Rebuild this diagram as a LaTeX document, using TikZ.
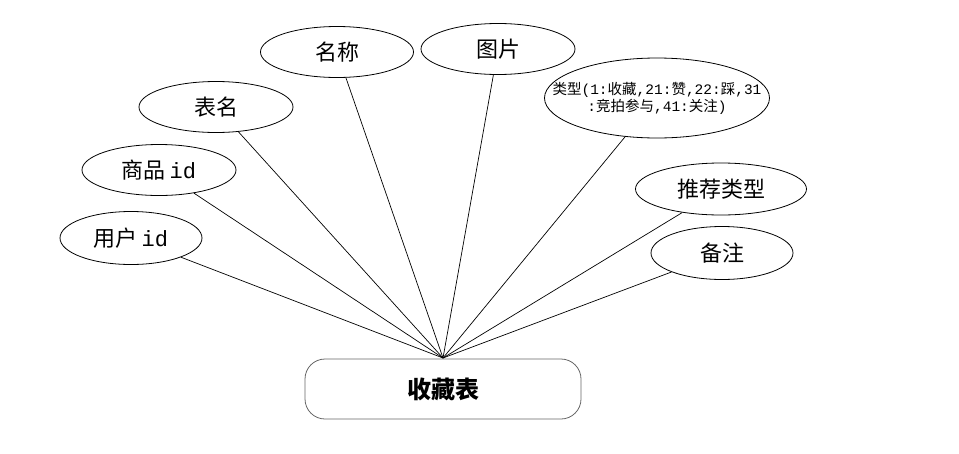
\documentclass[tikz,border=0pt]{standalone}
\usepackage{fontspec}
\setmainfont{Noto Sans CJK SC}
\newfontfamily\cjk{Noto Sans CJK SC}
\newfontfamily\lat{Liberation Mono}
\tikzset{
  attr/.style={draw,ellipse,line width=0.8pt,inner sep=0pt,font=\cjk\fontsize{22}{26}\selectfont},
  tabl/.style={draw=black!60,rounded corners=20pt,line width=0.8pt,minimum width=276pt,minimum height=60pt,font=\cjk\bfseries\fontsize{24}{28}\selectfont},
  link/.style={line width=0.7pt}
}
\usetikzlibrary{shapes.geometric}
\begin{document}
\begin{tikzpicture}[x=1pt,y=-1pt]%
\useasboundingbox (0,0) rectangle (959,453);
% entity
\node[tabl] (shoucang) at (443,389) {收藏表};
\coordinate (hub) at (443,358);
% attributes
\node[attr,minimum width=142pt,minimum height=53pt] (yonghu) at (131,238) {用户{\lat\,id}};
\node[attr,minimum width=154pt,minimum height=51pt] (shangpin) at (159,170) {商品{\lat\,id}};
\node[attr,minimum width=154pt,minimum height=51pt] (biaoming) at (216,107) {表名};
\node[attr,minimum width=153pt,minimum height=51pt] (mingcheng) at (337,52) {名称};
\node[attr,minimum width=154pt,minimum height=51pt] (tupian) at (498,49) {图片};
\node[attr,minimum width=225pt,minimum height=80pt,inner xsep=-30pt,align=center,font=\cjk\fontsize{14.5}{17}\selectfont] (leixing) at (657,98)
 {类型{\lat(1:}收藏{\lat,21:}赞{\lat,22:}踩{\lat,31}\\{\lat:}竞拍参与{\lat,41:}关注{\lat)}};
\node[attr,minimum width=171pt,minimum height=52pt] (tuijian) at (721,189) {推荐类型};
\node[attr,minimum width=142pt,minimum height=53pt] (beizhu) at (722,253) {备注};
% connectors
\foreach \a in {yonghu,shangpin,biaoming,mingcheng,tupian,leixing,tuijian,beizhu}
 \draw[link] (\a) -- (hub);
\end{tikzpicture}
\end{document}
